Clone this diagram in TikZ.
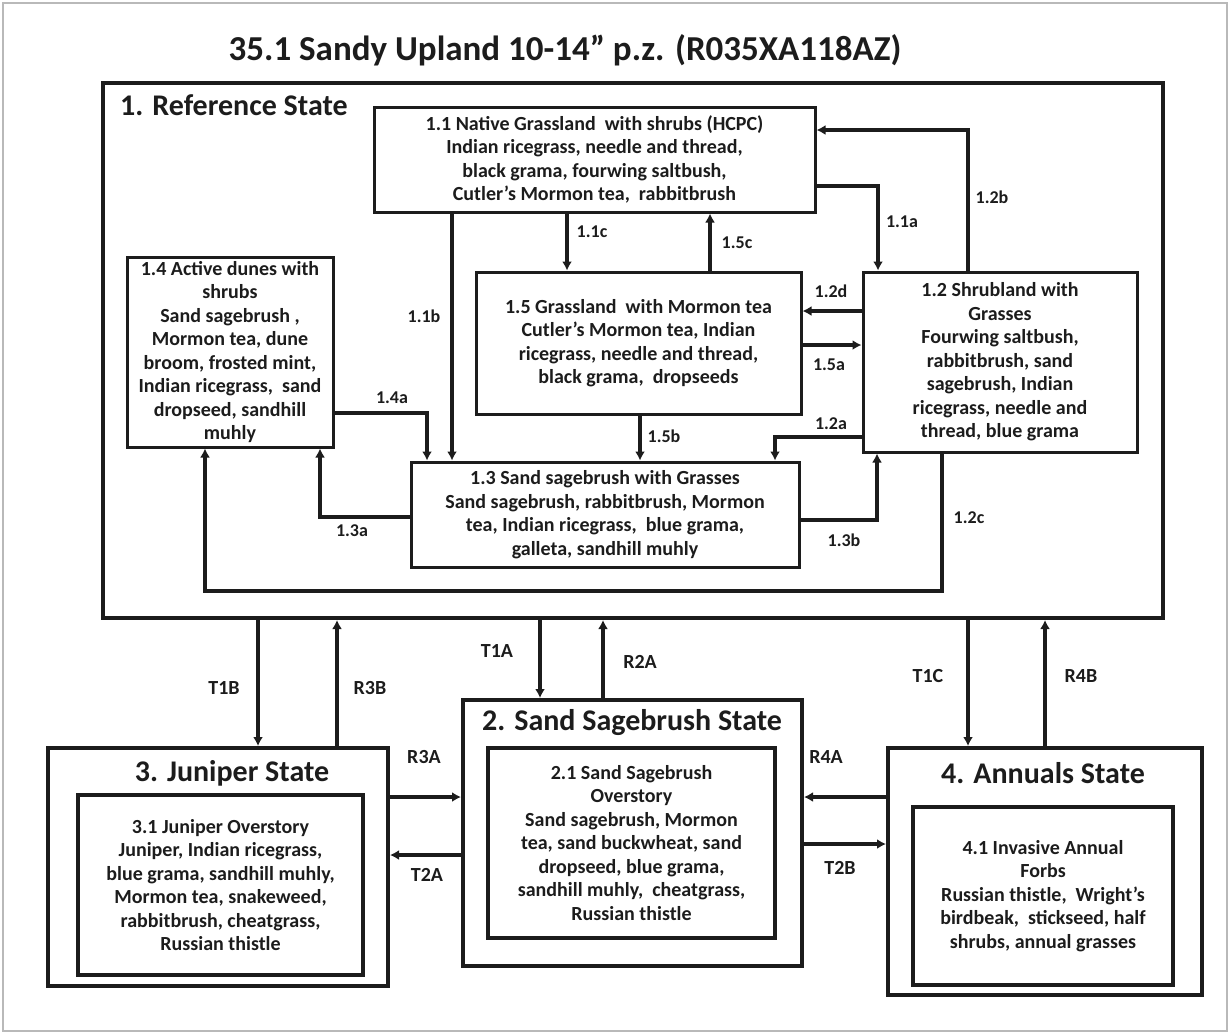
\documentclass[tikz,border=0pt]{standalone}
\usepackage{fontspec}
\setmainfont{Carlito}
\usetikzlibrary{arrows.meta}
\definecolor{ink}{HTML}{1C1C1C}
\tikzset{
  box/.style={draw=ink, line width=3pt, inner sep=0pt, align=center,
    font=\bfseries\fontsize{20}{23.5}\selectfont, text=ink},
  statebox/.style={draw=ink, line width=4pt, inner sep=0pt},
  conn/.style={draw=ink, line width=3.5pt, -{Latex[length=9pt,width=10pt]}},
  lab/.style={font=\bfseries\fontsize{18}{20}\selectfont, text=ink, inner sep=1pt},
  tlab/.style={font=\bfseries\fontsize{20}{22}\selectfont, text=ink, inner sep=1pt},
  head/.style={font=\bfseries\fontsize{30}{33}\selectfont, text=ink, inner sep=0pt},
}
\begin{document}
\begin{tikzpicture}[x=1pt, y=-1pt]
\useasboundingbox (0,0) rectangle (1230,1034);
\fill[white] (0,0) rectangle (1230,1034);
\draw[gray!55, line width=1.5pt] (3,3) rectangle (1227,1031);

% title
\node[font=\bfseries\fontsize{35}{38}\selectfont, text=ink] (title) at (565,50)
  {35.1 Sandy Upland 10-14” p.z. (R035XA118AZ)};

% reference state and its community phases
\node[statebox, minimum width=1060pt, minimum height=535pt] (ref) at (633,350.5) {};
\node[head, anchor=west] (reftitle) at (120,105) {1. Reference State};

\node[box, minimum width=441pt, minimum height=105pt] (b11) at (594.5,159.5)
  {1.1 Native Grassland\ \ with shrubs (HCPC)\\ Indian ricegrass, needle and thread,\\ black grama, fourwing saltbush,\\ Cutler's Mormon tea,\ \ rabbitbrush};
\node[box, minimum width=206pt, minimum height=190pt] (b14) at (230,352)
  {1.4 Active dunes with\\ shrubs\\ Sand sagebrush ,\\ Mormon tea, dune\\ broom, frosted mint,\\ Indian ricegrass,\ \ sand\\ dropseed, sandhill\\ muhly};
\node[box, minimum width=325pt, minimum height=142pt] (b15) at (638.5,343)
  {1.5 Grassland\ \ with Mormon tea\\ Cutler's Mormon tea, Indian\\ ricegrass, needle and thread,\\ black grama,\ \ dropseeds};
\node[box, minimum width=274pt, minimum height=180pt] (b12) at (1000,362)
  {1.2 Shrubland with\\ Grasses\\ Fourwing saltbush,\\ rabbitbrush, sand\\ sagebrush, Indian\\ ricegrass, needle and\\ thread, blue grama};
\node[box, minimum width=388pt, minimum height=105pt] (b13) at (605,514.5)
  {1.3 Sand sagebrush with Grasses\\ Sand sagebrush, rabbitbrush, Mormon\\ tea, Indian ricegrass,\ \ blue grama,\\ galleta, sandhill muhly};

% pathways inside the reference state
\draw[conn] (b11.south -| 452,0) -- (b13.north -| 452,0);
\draw[conn] (b11.south -| 567,0) -- (b15.north -| 567,0);
\draw[conn] (b15.north -| 710,0) -- (b11.south -| 710,0);
\draw[conn] (b11.east |- 0,186) -| (b12.north -| 878,0);
\draw[conn] (b12.north -| 968,0) |- (b11.east |- 0,130);
\draw[conn] (b12.west |- 0,311) -- (b15.east |- 0,311);
\draw[conn] (b15.east |- 0,345) -- (b12.west |- 0,345);
\draw[conn] (b15.south -| 640,0) -- (b13.north -| 640,0);
\draw[conn] (b12.west |- 0,437) -| (b13.north -| 775,0);
\draw[conn] (b13.east |- 0,520) -| (b12.south -| 877,0);
\draw[conn] (b13.west |- 0,517) -| (b14.south -| 320,0);
\draw[conn] (b14.east |- 0,413) -| (b13.north -| 427,0);
\coordinate (turn) at (205,591);
\draw[conn] (b12.south -| 942,0) |- (turn) -- (b14.south -| turn);

\node[lab] (l11b) at (424,316) {1.1b};
\node[lab] (l11c) at (592,232) {1.1c};
\node[lab] (l15c) at (737,243) {1.5c};
\node[lab] (l11a) at (902,222) {1.1a};
\node[lab] (l12b) at (992,197) {1.2b};
\node[lab] (l12d) at (831,291) {1.2d};
\node[lab] (l15a) at (829,365) {1.5a};
\node[lab] (l15b) at (664,436) {1.5b};
\node[lab] (l12a) at (831,424) {1.2a};
\node[lab] (l13b) at (844,540) {1.3b};
\node[lab] (l13a) at (352,531) {1.3a};
\node[lab] (l14a) at (392,398) {1.4a};
\node[lab] (l12c) at (969,518) {1.2c};

% alternative states
\node[statebox, minimum width=340pt, minimum height=238pt] (s3) at (218,867) {};
\node[head] (s3title) at (232,773) {3. Juniper State};
\node[box, line width=4pt, minimum width=285pt, minimum height=180pt] (i3) at (220.5,885)
  {3.1 Juniper Overstory\\ Juniper, Indian ricegrass,\\ blue grama, sandhill muhly,\\ Mormon tea, snakeweed,\\ rabbitbrush, cheatgrass,\\ Russian thistle};

\node[statebox, minimum width=339pt, minimum height=266pt] (s2) at (632.5,833) {};
\node[head] (s2title) at (632,723) {2. Sand Sagebrush State};
\node[box, line width=4pt, minimum width=287pt, minimum height=190pt] (i2) at (631.5,843)
  {2.1 Sand Sagebrush\\ Overstory\\ Sand sagebrush, Mormon\\ tea, sand buckwheat, sand\\ dropseed, blue grama,\\ sandhill muhly,\ \ cheatgrass,\\ Russian thistle};

\node[statebox, minimum width=314pt, minimum height=247pt] (s4) at (1045,871.5) {};
\node[head] (s4title) at (1043,773) {4. Annuals State};
\node[box, line width=4pt, minimum width=260pt, minimum height=178pt] (i4) at (1043,896)
  {4.1 Invasive Annual\\ Forbs\\ Russian thistle,\ \ Wright's\\ birdbeak,\ \ stickseed, half\\ shrubs, annual grasses};

% transitions and restorations
\draw[conn] (ref.south -| 258,0) -- (s3.north -| 258,0);
\draw[conn] (s3.north -| 337,0) -- (ref.south -| 337,0);
\draw[conn] (ref.south -| 540,0) -- (s2.north -| 540,0);
\draw[conn] (s2.north -| 603,0) -- (ref.south -| 603,0);
\draw[conn] (ref.south -| 968,0) -- (s4.north -| 968,0);
\draw[conn] (s4.north -| 1045,0) -- (ref.south -| 1045,0);
\draw[conn] (s3.east |- 0,797) -- (s2.west |- 0,797);
\draw[conn] (s2.west |- 0,855) -- (s3.east |- 0,855);
\draw[conn] (s4.west |- 0,797) -- (s2.east |- 0,797);
\draw[conn] (s2.east |- 0,844) -- (s4.west |- 0,844);

\node[tlab] (lT1B) at (224,688) {T1B};
\node[tlab] (lR3B) at (370,688) {R3B};
\node[tlab] (lT1A) at (497,651) {T1A};
\node[tlab] (lR2A) at (640,662) {R2A};
\node[tlab] (lT1C) at (928,676) {T1C};
\node[tlab] (lR4B) at (1081,676) {R4B};
\node[tlab] (lR3A) at (424,757) {R3A};
\node[tlab] (lT2A) at (427,875) {T2A};
\node[tlab] (lR4A) at (826,757) {R4A};
\node[tlab] (lT2B) at (840,868) {T2B};
\end{tikzpicture}
\end{document}
